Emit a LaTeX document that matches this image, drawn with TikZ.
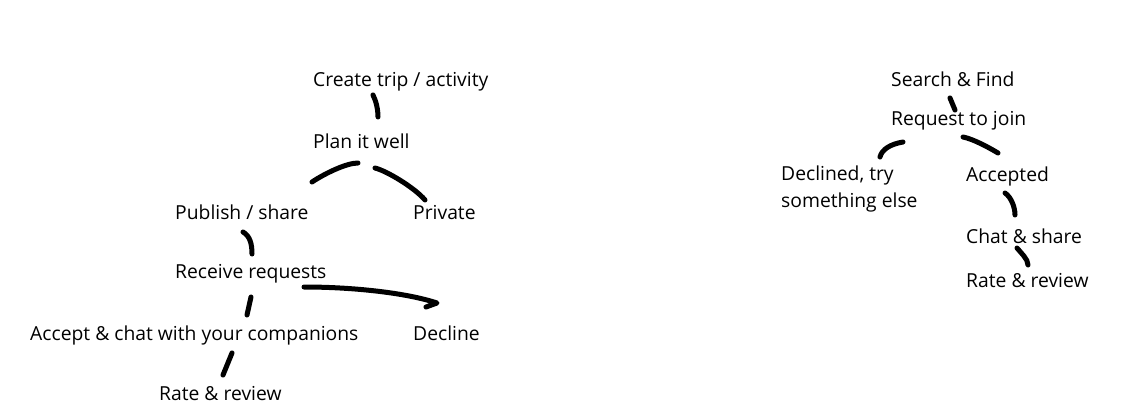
\documentclass[tikz,border=0pt]{standalone}
\usepackage{fontspec}
\setmainfont{Open Sans}
\begin{document}
\begin{tikzpicture}[x=1pt,y=-1pt,
  lbl/.style={anchor=base west,inner sep=0pt,font=\fontsize{19.3}{27}\selectfont},
  stroke/.style={line width=5pt,line cap=round,black}]
\useasboundingbox[fill=white] (0,0) rectangle (1124,409);
% left tree
\node[lbl] (create) at (313,87) {Create trip / activity};
\node[lbl] (plan) at (313,148) {Plan it well};
\node[lbl] (publish) at (175,219) {Publish / share};
\node[lbl] (private) at (413,219) {Private};
\node[lbl] (receive) at (175,278) {Receive requests};
\node[lbl] (accept) at (30,340) {Accept \& chat with your companions};
\node[lbl] (decline) at (413,340) {Decline};
\node[lbl] (rate) at (159,400) {Rate \& review};
% right tree
\node[lbl] (search) at (891,87) {Search \& Find};
\node[lbl] (request) at (891,126) {Request to join};
\node[lbl,align=left] (declined) at (781,207) {Declined, try\\something else};
\node[lbl] (accepted) at (966,181) {Accepted};
\node[lbl] (chat) at (966,243) {Chat \& share};
\node[lbl] (rate2) at (966,287) {Rate \& review};
% strokes left
\draw[stroke] ([shift={(60,8)}]create.base west) .. controls +(3,6) and +(0,-8) .. ([shift={(65,-31)}]plan.base west);
\draw[stroke] ([shift={(45,15)}]plan.base west) .. controls +(-12,0) and +(12,-8) .. ([shift={(137,-37)}]publish.base west);
\draw[stroke] ([shift={(62,20)}]plan.base west) .. controls +(12,3) and +(-10,-12) .. ([shift={(12,-19)}]private.base west);
\draw[stroke] ([shift={(68,13)}]publish.base west) .. controls +(7,4) and +(0,-10) .. ([shift={(77,-24)}]receive.base west);
\draw[stroke] ([shift={(76,19)}]receive.base west) -- ([shift={(217,-25)}]accept.base west);
\draw[stroke] ([shift={(202,13)}]accept.base west) -- ([shift={(64,-25)}]rate.base west);
\draw[stroke,line join=round] ([shift={(129,9)}]receive.base west) .. controls +(50,0) and +(-30,-10) .. ([shift={(24,-37)}]decline.base west) -- ([shift={(13,-33)}]decline.base west);
% strokes right
\draw[stroke] ([shift={(59,11)}]search.base west) -- ([shift={(64,-16)}]request.base west);
\draw[stroke] ([shift={(12,16)}]request.base west) .. controls +(-12,2) and +(2,-8) .. ([shift={(99,-50)}]declined.base west);
\draw[stroke] ([shift={(72,11)}]request.base west) .. controls +(10,2) and +(-10,-6) .. ([shift={(32,-28)}]accepted.base west);
\draw[stroke] ([shift={(39,12)}]accepted.base west) .. controls +(6,4) and +(0,-8) .. ([shift={(49,-28)}]chat.base west);
\draw[stroke] ([shift={(51,5)}]chat.base west) .. controls +(4,5) and +(0,-6) .. ([shift={(62,-22)}]rate2.base west);
\end{tikzpicture}
\end{document}
